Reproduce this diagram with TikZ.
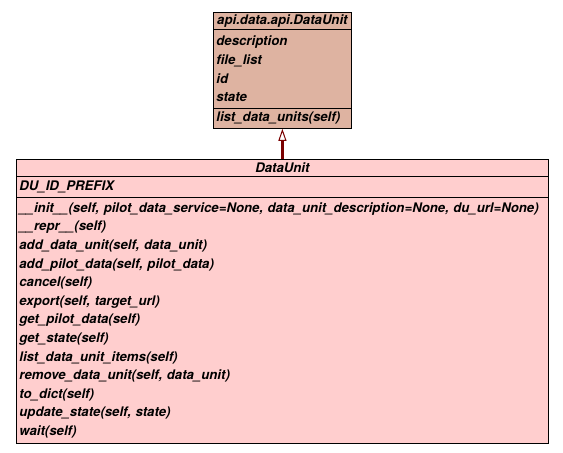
\documentclass[tikz,border=0pt]{standalone}
\usepackage{fontspec}
\setmainfont{TeX Gyre Heros}
\usetikzlibrary{arrows.meta}
\definecolor{apifill}{HTML}{DEB3A1}
\definecolor{dufill}{HTML}{FFCECE}
\definecolor{linkred}{HTML}{7A0000}
\tikzset{
    umlbox/.style={draw,thick,inner sep=0pt,inner xsep=3pt,anchor=north west,
        font=\fontsize{13.2}{18.6}\selectfont\bfseries\itshape},
    umltitle/.style={umlbox,align=center},
    umllist/.style={umlbox,align=left}
}
\begin{document}
\begin{tikzpicture}[x=1pt,y=-1pt]
        \useasboundingbox[fill=white](0,0)rectangle(563,453);

        % api.data.api.DataUnit
        \node[umltitle,fill=apifill,minimum width=138pt,minimum height=17pt,text width=132pt](apititle)at(213,12){api.data.api.DataUnit};
        \node[umllist,fill=apifill,minimum width=138pt,minimum height=79pt,text width=132pt](apiattr)at(213,29){description\\file\_list\\id\\state};
        \node[umllist,fill=apifill,minimum width=138pt,minimum height=20pt,text width=132pt](apimeth)at(213,108){list\_data\_units(self)};

        % DataUnit
        \node[umltitle,fill=dufill,minimum width=532pt,minimum height=17pt,text width=526pt](dutitle)at(16,159){DataUnit};
        \node[umllist,fill=dufill,minimum width=532pt,minimum height=21pt,text width=526pt](duattr)at(16,176){DU\_ID\_PREFIX};
        \node[umllist,fill=dufill,minimum width=532pt,minimum height=246pt,text width=526pt](dumeth)at(16,197){%
            \_\_init\_\_(self, pilot\_data\_service=None, data\_unit\_description=None, du\_url=None)\\
            \_\_repr\_\_(self)\\
            add\_data\_unit(self, data\_unit)\\
            add\_pilot\_data(self, pilot\_data)\\
            cancel(self)\\
            export(self, target\_url)\\
            get\_pilot\_data(self)\\
            get\_state(self)\\
            list\_data\_unit\_items(self)\\
            remove\_data\_unit(self, data\_unit)\\
            to\_dict(self)\\
            update\_state(self, state)\\
            wait(self)};

        \draw[linkred,line width=3pt,-{Triangle[open,fill=white,line width=1pt,width=8pt,length=12pt]}](dutitle.north)--(apimeth.south);
    \end{tikzpicture}
\end{document}
